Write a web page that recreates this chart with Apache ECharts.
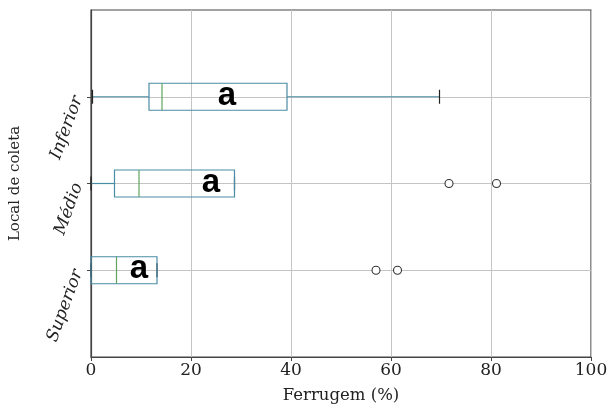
<!DOCTYPE html>
<html>
<head>
<meta charset="utf-8">
<script src="https://cdn.jsdelivr.net/npm/echarts@6/dist/echarts.min.js"></script>
<style>html,body{margin:0;padding:0;background:#fff}#c{width:611px;height:411px}</style>
</head>
<body>
<div id="c"></div>
<script>
// Categories (bottom to top) and their positions on the y value axis
const categories = ['Superior', 'Médio', 'Inferior'];
const positions = [1, 2, 3];
// Box statistics (Ferrugem %)
const whiskerLow = [0, 0, 0.3];
const q1 = [0, 4.7, 11.6];
const median = [5.1, 9.6, 14.2];
const q3 = [13.2, 28.7, 39.2];
const whiskerHigh = [13.2, 28.7, 69.7];
// Outliers per category
const outliers = [[57.0, 61.3], [71.6, 81.1], []];
// Significance letters and where they sit along x
const letters = ['a', 'a', 'a'];
const letterX = [9.6, 24.0, 27.2];
// Axis ticks
const xTicks = [0, 20, 40, 60, 80, 100];

const boxColor = '#4a8ca6';
const medColor = '#5fa35f';
const capColor = '#222222';

const boxData = positions.map((p, i) => [p, whiskerLow[i], q1[i], median[i], q3[i], whiskerHigh[i]]);
const outlierData = [];
outliers.forEach((arr, i) => arr.forEach(v => outlierData.push([v, positions[i]])));
const letterData = letters.map((l, i) => ({ value: [letterX[i], positions[i]], name: l }));

const chart = echarts.init(document.getElementById('c'), null, { renderer: 'canvas' });

chart.setOption({
  animation: false,
  backgroundColor: '#ffffff',
  grid: { left: 91, right: 20, top: 10, bottom: 54, show: true, borderColor: '#444', borderWidth: 1.2, containLabel: false },
  xAxis: {
    type: 'value', min: 0, max: 100, interval: 20,
    name: 'Ferrugem (%)', nameLocation: 'middle', nameGap: 30,
    nameTextStyle: { fontFamily: 'DejaVu Serif', fontSize: 16.5, color: '#222' },
    axisLine: { show: true, lineStyle: { color: '#444', width: 1.2 } },
    axisTick: { show: true, length: 4, lineStyle: { color: '#444' } },
    axisLabel: { fontFamily: 'DejaVu Serif', fontSize: 17, color: '#222', margin: 5 },
    splitLine: { show: true, lineStyle: { color: '#c4c4c4', width: 1 } }
  },
  yAxis: {
    type: 'value', min: 0, max: 4, interval: 1,
    name: 'Local de coleta', nameLocation: 'middle', nameGap: 68, nameRotate: 90,
    nameTextStyle: { fontFamily: 'DejaVu Serif', fontSize: 15, color: '#222' },
    axisLine: { show: true, lineStyle: { color: '#444', width: 1.2 } },
    axisTick: { show: true, length: 4, lineStyle: { color: '#444' }, customValues: positions },
    axisLabel: {
      customValues: positions,
      rotate: 70, margin: 13,
      fontFamily: 'DejaVu Serif', fontStyle: 'italic', fontSize: 17, color: '#222',
      formatter: v => { const i = positions.indexOf(v); return i >= 0 ? categories[i] : ''; }
    },
    splitLine: { show: true, lineStyle: { color: '#c4c4c4', width: 1 } }
  },
  series: [
    {
      type: 'custom',
      data: boxData,
      encode: { x: [1, 2, 3, 4, 5], y: 0 },
      renderItem: function (params, api) {
        const pos = api.value(0);
        const lo = api.coord([api.value(1), pos]);
        const b1 = api.coord([api.value(2), pos]);
        const md = api.coord([api.value(3), pos]);
        const b3 = api.coord([api.value(4), pos]);
        const hi = api.coord([api.value(5), pos]);
        const y = lo[1];
        const hh = 13.5, ch = 7;
        return {
          type: 'group',
          children: [
            { type: 'line', shape: { x1: lo[0], y1: y, x2: b1[0], y2: y }, style: { stroke: boxColor, lineWidth: 1.2 } },
            { type: 'line', shape: { x1: b3[0], y1: y, x2: hi[0], y2: y }, style: { stroke: boxColor, lineWidth: 1.2 } },
            { type: 'line', shape: { x1: lo[0], y1: y - ch, x2: lo[0], y2: y + ch }, style: { stroke: capColor, lineWidth: 1.2 } },
            { type: 'line', shape: { x1: hi[0], y1: y - ch, x2: hi[0], y2: y + ch }, style: { stroke: capColor, lineWidth: 1.2 } },
            { type: 'rect', shape: { x: b1[0], y: y - hh, width: b3[0] - b1[0], height: 2 * hh }, style: { fill: 'rgba(255,255,255,0)', stroke: boxColor, lineWidth: 1.2 } },
            { type: 'line', shape: { x1: md[0], y1: y - hh, x2: md[0], y2: y + hh }, style: { stroke: medColor, lineWidth: 1.2 } }
          ]
        };
      },
      z: 3
    },
    {
      type: 'scatter',
      data: outlierData,
      symbol: 'circle', symbolSize: 8,
      itemStyle: { color: '#ffffff', borderColor: '#333', borderWidth: 1.1, opacity: 1 },
      z: 4
    },
    {
      type: 'scatter',
      data: letterData,
      symbolSize: 0,
      itemStyle: { opacity: 1 },
      label: {
        show: true, position: 'inside', formatter: p => p.name,
        fontFamily: 'Liberation Sans', fontWeight: 'bold', fontSize: 33, color: '#000', offset: [0, -1]
      },
      z: 5
    }
  ]
});
</script>
</body>
</html>
